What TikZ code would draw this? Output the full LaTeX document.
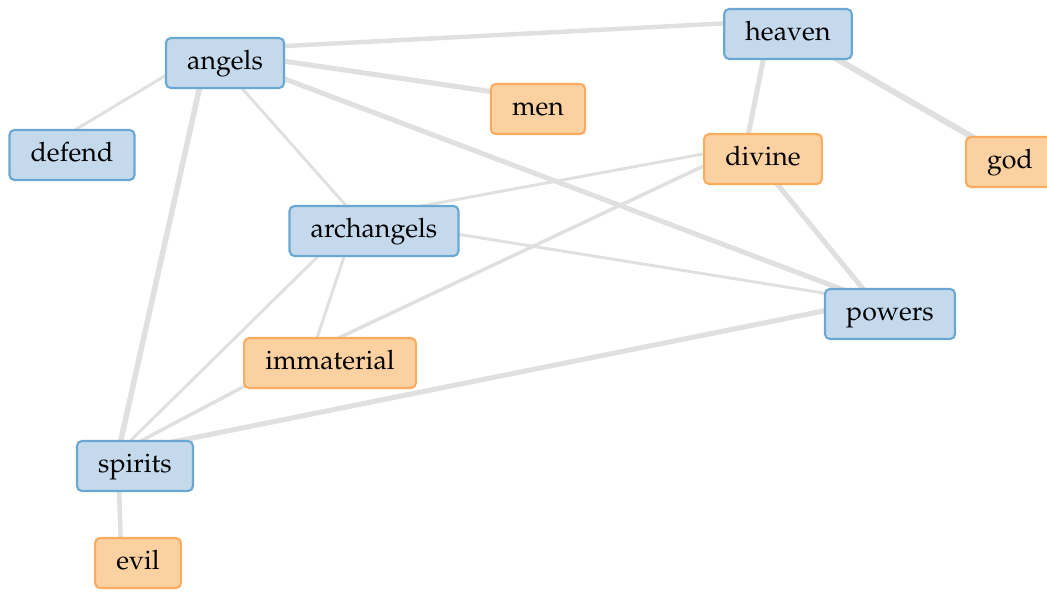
\documentclass[tikz,border=0pt]{standalone}
\usepackage[T1]{fontenc}
\usepackage{mathpazo}
\usetikzlibrary{backgrounds}

\definecolor{boxblue}{RGB}{197,217,237}
\definecolor{lineblue}{RGB}{106,168,212}
\definecolor{boxorange}{RGB}{252,209,161}
\definecolor{lineorange}{RGB}{249,172,96}
\definecolor{edgegray}{RGB}{224,224,224}

\tikzset{
  term/.style={draw, rounded corners=3.5pt, line width=1.5pt,
    minimum height=1.25cm, inner xsep=0.53cm,
    text height=0.95em, text depth=0.05em,
    font=\fontsize{19}{23}\selectfont},
  blueterm/.style={term, fill=boxblue, draw=lineblue},
  orangeterm/.style={term, fill=boxorange, draw=lineorange},
  edge/.style={draw=edgegray, line cap=round},
}

\begin{document}
\begin{tikzpicture}[x=0.025cm, y=-0.025cm]
    \useasboundingbox (0,0) rectangle (1047,592);
    \clip (0,0) rectangle (1047,592);
        % words
        \node[blueterm] (angels) at (225,63) {angels};
        \node[blueterm] (heaven) at (788,34) {heaven};
        \node[orangeterm] (men) at (538,109) {men};
        \node[blueterm] (defend) at (72,155) {defend};
        \node[orangeterm] (divine) at (763,159) {divine};
        \node[orangeterm] (god) at (1010,162) {god};
        \node[blueterm] (archangels) at (374,231) {archangels};
        \node[blueterm] (powers) at (890,314) {powers};
        \node[orangeterm] (immaterial) at (330,363) {immaterial};
        \node[blueterm] (spirits) at (135,466) {spirits};
        \node[orangeterm] (evil) at (138,563) {evil};
        \foreach \w in {angels,heaven,men,defend,divine,god,archangels,powers,immaterial,spirits,evil}
            \coordinate (\w-hub) at ([shift={(-17,-13)}]\w.center);
        % links
        \begin{pgfonlayer}{background}
        \draw[edge, line width=3.2pt] (angels-hub) -- (heaven-hub);
        \draw[edge, line width=3.6pt] (angels-hub) -- (men-hub);
        \draw[edge, line width=2.1pt] (angels-hub) -- (defend-hub);
        \draw[edge, line width=2.1pt] (angels-hub) -- (archangels-hub);
        \draw[edge, line width=3.6pt] (angels-hub) -- (powers-hub);
        \draw[edge, line width=3.9pt] (angels-hub) -- (spirits-hub);
        \draw[edge, line width=3.6pt] (heaven-hub) -- (divine-hub);
        \draw[edge, line width=4.3pt] (heaven-hub) -- (god-hub);
        \draw[edge, line width=2.1pt] (divine-hub) -- (archangels-hub);
        \draw[edge, line width=2.5pt] (divine-hub) -- (immaterial-hub);
        \draw[edge, line width=3.6pt] (divine-hub) -- (powers-hub);
        \draw[edge, line width=2.1pt] (archangels-hub) -- (powers-hub);
        \draw[edge, line width=2.1pt] (archangels-hub) -- (immaterial-hub);
        \draw[edge, line width=2.1pt] (archangels-hub) -- (spirits-hub);
        \draw[edge, line width=2.5pt] (immaterial-hub) -- (spirits-hub);
        \draw[edge, line width=3.6pt] (powers-hub) -- (spirits-hub);
        \draw[edge, line width=3.2pt] (spirits-hub) -- (evil-hub);
        \end{pgfonlayer}
\end{tikzpicture}
\end{document}
